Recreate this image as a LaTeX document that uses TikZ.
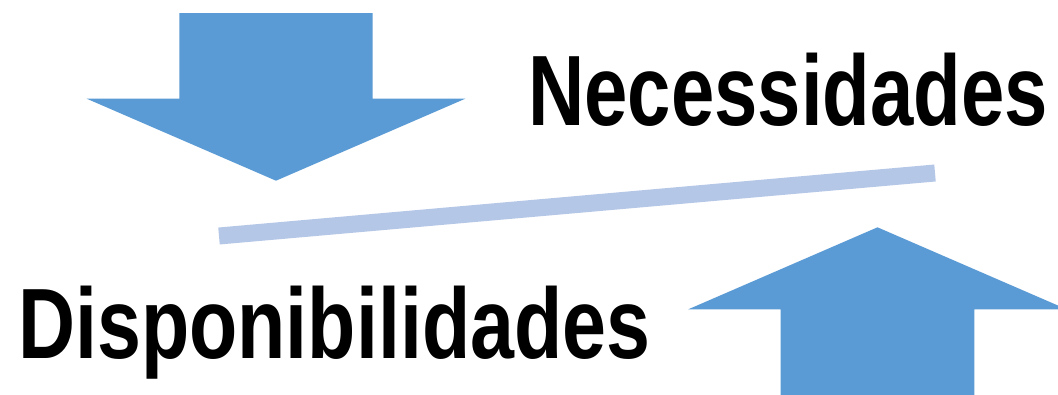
\documentclass[tikz,border=0pt]{standalone}
\usepackage{fontspec}
\setmainfont{Liberation Sans}
\definecolor{arrowblue}{HTML}{5B9BD5}
\definecolor{lineblue}{HTML}{B4C7E7}
\begin{document}
\begin{tikzpicture}[x=1pt,y=-1pt,
  bigarrow/.style={fill=arrowblue,draw=none},
  label/.style={inner sep=0pt,anchor=base west,font=\fontsize{100}{120}\selectfont\bfseries},
  balance/.style={draw=lineblue,line width=17pt}]
\useasboundingbox (0,0) rectangle (1058,394);
\clip (0,0) rectangle (1058,394);
\fill[white] (0,0) rectangle (1058,394);
% down arrow
\fill[bigarrow] (179.3,13) -- (372.7,13) -- (372.7,98.7) -- (465.3,98.7) -- (276,180.7) -- (86.7,98.7) -- (179.3,98.7) -- cycle;
% up arrow
\fill[bigarrow] (780.7,400) -- (974.3,400) -- (974.3,309.3) -- (1066.7,309.3) -- (877.5,227.3) -- (688.3,309.3) -- (780.7,309.3) -- cycle;
% balance line
\coordinate (lo) at (219,236);
\coordinate (hi) at (935,173);
\draw[balance] (lo) -- (hi);
% texts
\node[label] (nec) at (528,125) {\scalebox{0.779}[1]{Necessidades}};
\node[label] (disp) at (18,358) {\scalebox{0.79}[1]{Disponibilidades}};
\end{tikzpicture}
\end{document}
